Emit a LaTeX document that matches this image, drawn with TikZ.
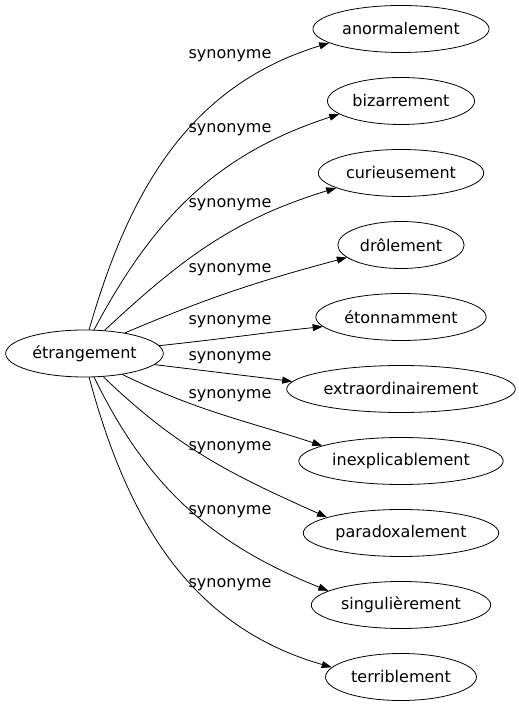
\documentclass[tikz,border=0pt]{standalone}
\usepackage{fontspec}
\setmainfont{DejaVu Sans}
\usetikzlibrary{arrows.meta}
\usetikzlibrary{shapes.geometric}

\begin{document}
\begin{tikzpicture}[line cap=round,line join=round,>={Triangle[length=10pt,width=7pt]},x=1pt,y=1pt,
  mot/.style={draw,ellipse,line width=0.8pt,inner xsep=3.5pt,minimum height=47pt,font=\fontsize{16}{19}\selectfont},
  lien/.style={->,line width=0.8pt},
  etiq/.style={font=\fontsize{16}{19}\selectfont}]
\useasboundingbox (0,0) rectangle (519,707);
\node[mot] (etrangement) at (84.5,353.5) {étrangement};
\foreach \nom/\txt/\y in {anormalement/anormalement/678,bizarrement/bizarrement/606,
  curieusement/curieusement/534,drolement/drôlement/462,etonnamment/étonnamment/390,
  extraordinairement/extraordinairement/318,inexplicablement/inexplicablement/246,
  paradoxalement/paradoxalement/174,singulierement/singulièrement/102,terriblement/terriblement/30}
\node[mot] (\nom) at (401,\y) {\txt};
\foreach \nom/\a/\b/\o/\i in {anormalement/79/191/74/197,bizarrement/68/192/62/198,
  curieusement/49/193/43/197,drolement/27/193/23/195,etonnamment/6/187/6/186,
  extraordinairement/-9/176/-7/173,inexplicablement/-29/169/-26/162,
  paradoxalement/-51/168/-44/156,singulierement/-68/169/-64/158,terriblement/-79/172/-75/164}
\draw[lien] (etrangement.\a) to[out=\o,in=\i] (\nom.\b);
\foreach \y [count=\n] in {651,577,502,437,385,349,311,259,195,122}
\node[etiq] (syn\n) at (230,\y) {synonyme};
\end{tikzpicture}
\end{document}
